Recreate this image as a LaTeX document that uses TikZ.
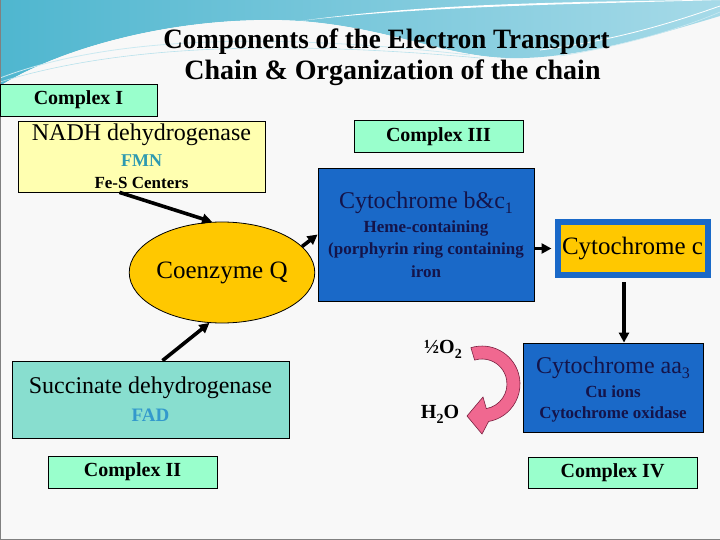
\documentclass[tikz,border=0pt]{standalone}
\usepackage{fontspec}
\setmainfont{Liberation Serif}
\usetikzlibrary{arrows.meta,shapes.geometric,calc}
\definecolor{bgc}{HTML}{F8F8F8}
\definecolor{mint}{HTML}{99FFCC}
\definecolor{paleyel}{HTML}{FFFFB0}
\definecolor{gold}{HTML}{FFC800}
\definecolor{bluebox}{HTML}{1A69C8}
\definecolor{navy}{HTML}{14144A}
\definecolor{succ}{HTML}{88DECF}
\definecolor{fmnc}{HTML}{2E9AB0}
\definecolor{fadc}{HTML}{3399CC}
\definecolor{pinkc}{HTML}{F06890}
\definecolor{pinkd}{HTML}{7A2040}
\definecolor{skyA}{HTML}{4FB6CF}
\definecolor{skyB}{HTML}{A6DAE8}
\newcommand{\fsz}[1]{\fontsize{#1}{#1}\selectfont}
\begin{document}
\begin{tikzpicture}[x=1pt,y=-1pt,
  box/.style={draw=black, line width=0.8pt, inner sep=0pt, anchor=center},
  cplx/.style={box, fill=mint, font=\bfseries\fsz{20}},
  txt/.style={inner sep=0pt, anchor=center},
  flow/.style={line width=3.6pt, -{Triangle[length=10pt,width=10pt]}, black}]
\useasboundingbox (0,0) rectangle (720,540);
% background
\fill[bgc] (0,0) rectangle (720,540);
\shade[left color=skyA, right color=skyB] (0,0) -- (720,0) -- (720,16)
  .. controls (640,40) and (570,60) .. (505,58)
  .. controls (440,55) and (390,28) .. (300,21)
  .. controls (180,14) and (60,48) .. (0,86) -- cycle;
\fill[white] (300,21) .. controls (420,6) and (580,4) .. (720,0) -- (700,0)
  .. controls (560,2) and (420,4) .. (300,21) -- cycle;
\fill[bgc] (0,86) .. controls (60,48) and (180,14) .. (300,21)
  .. controls (390,28) and (440,55) .. (505,58) .. controls (470,62) and (400,50) .. (300,30)
  .. controls (200,24) and (80,55) .. (0,90) -- cycle;
\draw[white!70!skyA, line width=0.8pt] (0,78) .. controls (100,40) and (250,30) .. (470,55);
\draw[white!60!skyA, line width=0.6pt] (0,82) .. controls (120,45) and (280,40) .. (480,58);
\draw[white, line width=0.8pt] (540,50) .. controls (620,40) and (680,20) .. (720,6);
\draw[white!70!skyA, line width=0.6pt] (560,56) .. controls (630,45) and (690,25) .. (720,12);
\draw[gray, line width=1.2pt] (0.6,0) -- (0.6,539.4) -- (720,539.4);
% title
\node[txt, font=\bfseries\fsz{28}] (t1) at (386.5,42) {\scalebox{0.965}[1]{Components of the Electron Transport}};
\node[txt, font=\bfseries\fsz{28}] (t2) at (392.5,73) {Chain \& Organization of the chain};
% Complex I
\node[cplx, minimum width=157pt, minimum height=32pt] (c1) at (78.5,100) {Complex I};
\node[box, fill=paleyel, minimum width=247pt, minimum height=71pt] (nadh) at (141.5,156.5) {};
\node[txt, font=\fsz{24}] (nadhT) at (141.5,135) {NADH dehydrogenase};
\node[txt, font=\bfseries\fsz{18}, text=fmnc] (fmn) at (141.5,161) {FMN};
\node[txt, font=\bfseries\fsz{17}] (fes) at (141.5,183) {Fe-S Centers};
% Coenzyme Q
\node[ellipse, draw=black, line width=0.8pt, fill=gold, minimum width=168pt, minimum height=101pt, inner sep=0pt, font=\fsz{25}] (coq) at (222,272.5) {Coenzyme Q};
% Complex III
\node[cplx, minimum width=169pt, minimum height=32pt] (c3) at (438.5,136.5) {Complex III};
\node[box, fill=bluebox, minimum width=216pt, minimum height=133pt] (bc) at (426,234.5) {};
\node[txt, font=\fsz{24}, text=navy] (bcT) at (426,203) {Cytochrome b\&c\raisebox{-5pt}{\fsz{16}1}};
\node[txt, font=\bfseries\fsz{17}, text=navy] (bc2) at (426,228) {Heme-containing};
\node[txt, font=\bfseries\fsz{17}, text=navy] (bc3) at (426,250) {(porphyrin ring containing};
\node[txt, font=\bfseries\fsz{17}, text=navy] (bc4) at (426,272) {iron};
% Cytochrome c
\node[draw=bluebox, line width=6pt, fill=gold, minimum width=150pt, minimum height=53pt, inner sep=0pt, font=\fsz{25}] (cytc) at (632.5,248.5) {Cytochrome c};
% Complex IV
\node[box, fill=bluebox, minimum width=180pt, minimum height=89pt] (aa3) at (613,387.5) {};
\node[txt, font=\fsz{24}, text=navy] (aa3T) at (613,368) {Cytochrome aa\raisebox{-5pt}{\fsz{16}3}};
\node[txt, font=\bfseries\fsz{17}, text=navy] (cu) at (613,392) {Cu ions};
\node[txt, font=\bfseries\fsz{17}, text=navy] (ox) at (613,414) {Cytochrome oxidase};
\node[cplx, minimum width=169pt, minimum height=31pt] (c4) at (612.5,472.5) {Complex IV};
% water
\node[txt, font=\bfseries\fsz{20}] (o2) at (443,349) {½O\raisebox{-5pt}{\fsz{14}2}};
\node[txt, font=\bfseries\fsz{20}] (h2o) at (440,414) {H\raisebox{-5pt}{\fsz{14}2}O};
\fill[pinkc, draw=pinkd, line width=0.6pt]
  (470.9,347.7) arc[start angle=253, end angle=440, radius=38]
  -- (482,434) -- (467,416) -- (483,397) -- (486.3,408.6)
  arc[start angle=440, end angle=253, radius=25] -- cycle;
% Complex II
\node[box, fill=succ, minimum width=277pt, minimum height=77pt] (sdh) at (150.5,399.5) {};
\node[txt, font=\fsz{24}] (sdhT) at (150.5,388) {Succinate dehydrogenase};
\node[txt, font=\bfseries\fsz{19}, text=fadc] (fad) at (150.5,415) {FAD};
\node[cplx, minimum width=169pt, minimum height=32pt] (c2) at (132.5,472) {Complex II};
% connectors
\draw[flow] ([xshift=-22pt]nadh.south) -- (coq.101);
\draw[flow] (coq.18) -- (bc.west);
\draw[flow] ([xshift=12pt]sdh.north) -- (coq.-104);
\draw[flow] (bc.east |- cytc.west) -- ([xshift=-3pt]cytc.west);
\draw[flow] ([xshift=-8.5pt,yshift=-4pt]cytc.south) -- ([xshift=-8.5pt]cytc.south |- aa3.north);
\end{tikzpicture}
\end{document}
